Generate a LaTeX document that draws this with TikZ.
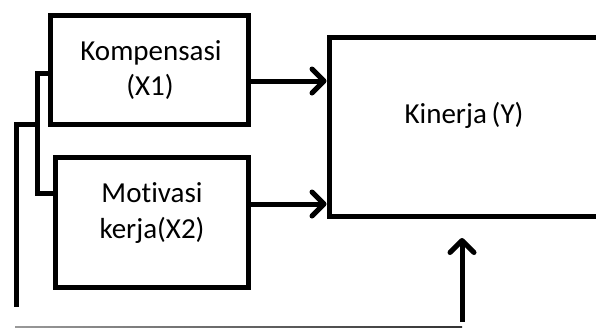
\documentclass[tikz,border=0pt]{standalone}
\usepackage{fontspec}
\setmainfont{Carlito}[Ligatures=NoCommon]
\usetikzlibrary{arrows.meta}
\begin{document}
\begin{tikzpicture}[x=1pt,y=-1pt,
  box/.style={draw=black,line width=5pt,minimum width=#1,inner sep=0pt,line join=miter},
  lbl/.style={align=center,font=\fontsize{29}{35}\selectfont,inner sep=0pt},
  conn/.style={line width=5pt},
  arr/.style={line width=5pt,-{Straight Barb[length=12pt,width=24pt,round]}}]
\useasboundingbox (0,0) rectangle (596,327);
\clip (0,0) rectangle (596,327);
% boxes
\node[box=198pt,minimum height=109pt] (kom) at (149,69.5) {};
\node[box=193pt,minimum height=130pt] (mot) at (151.5,222) {};
\node[box=291pt,minimum height=179pt] (kin) at (474.5,126.5) {};
% labels
\node[lbl,anchor=base] (t1) at (151,60) {Kompensasi};
\node[lbl,anchor=base] (t2) at (150,95) {(X1)};
\node[lbl,anchor=base] (t3) at (152,202) {Motivasi};
\node[lbl,anchor=base] (t4) at (152,238) {kerja(X2)};
\node[lbl,anchor=base] (t5) at (464,123) {Kinerja\,(Y)};
% arrows into Kinerja
\coordinate (r1) at (0,81);
\coordinate (r2) at (0,204);
\draw[arr] (kom.east |- r1) -- (kin.west |- r1);
\draw[arr] (mot.east |- r2) -- (kin.west |- r2);
% bracket on the left
\coordinate (b1) at (37,73);
\coordinate (b2) at (37,193);
\coordinate (b3) at (37,124);
\coordinate (v1) at (16,124);
\coordinate (v2) at (16,307);
\draw[conn] ([xshift=2pt]kom.west |- b1) -- (b1) -- (b2) -- ([xshift=2pt]mot.west |- b2);
\draw[conn] (b3) -- (v1) -- (v2);
% upward arrow
\coordinate (u1) at (462,322);
\coordinate (u2) at (462,238);
\draw[arr] (u1) -- (u2);
% thin bottom line
\shade[left color=black!40,right color=black!80] (15,326) rectangle (462,327);
\end{tikzpicture}
\end{document}
